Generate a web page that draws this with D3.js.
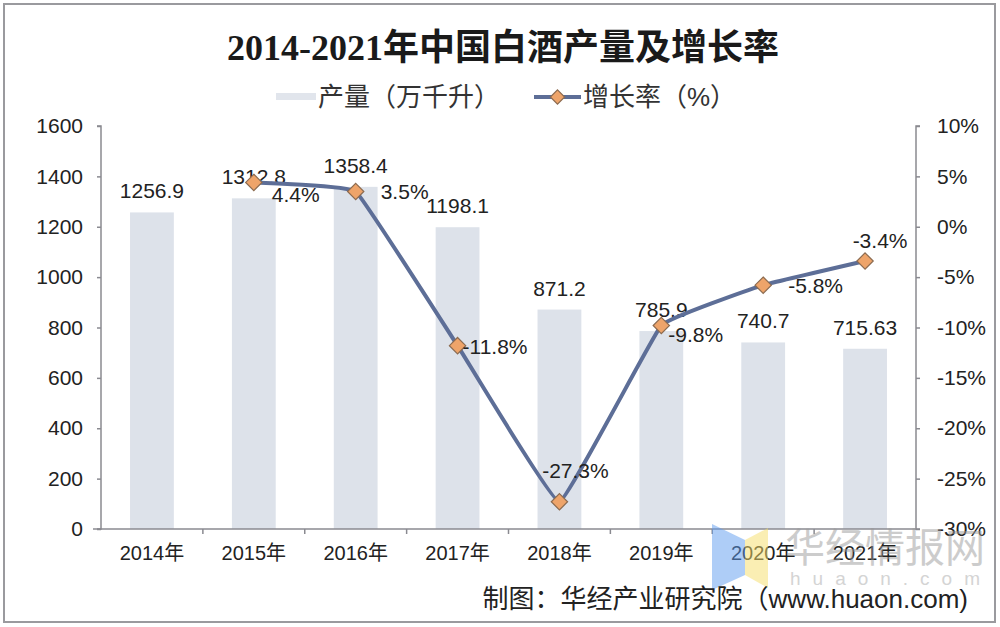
<!DOCTYPE html>
<html><head><meta charset="utf-8">
<script src="https://cdn.jsdelivr.net/npm/d3@7"></script>
<style>body{margin:0;background:#fff}svg{display:block}</style>
</head><body>
<script>
const categories = ["2014年","2015年","2016年","2017年","2018年","2019年","2020年","2021年"];
const output = [1256.9, 1312.8, 1358.4, 1198.1, 871.2, 785.9, 740.7, 715.63];
const outputLabels = ["1256.9","1312.8","1358.4","1198.1","871.2","785.9","740.7","715.63"];
const growth = [null, 4.4, 3.5, -11.8, -27.3, -9.8, -5.8, -3.4];
const growthLabels = ["", "4.4%", "3.5%", "-11.8%", "-27.3%", "-9.8%", "-5.8%", "-3.4%"];
const leftTicks = [0,200,400,600,800,1000,1200,1400,1600];
const rightTicks = [10,5,0,-5,-10,-15,-20,-25,-30];
// label offsets (dx, dy, anchor) — styling only
const growthLabelStyle = [null, [18,20,"start"], [25,8,"start"], [5,8,"start"], [16,-24,"middle"], [7,17,"start"], [25,8,"start"], [15,-13,"middle"]];

const W = 1000, H = 627;
const svg = d3.select("body").append("svg").attr("width", W).attr("height", H);
const sans = "Liberation Sans, Arial, Noto Sans CJK SC, sans-serif";

// frame
svg.append("rect").attr("x",4).attr("y",4).attr("width",991).attr("height",618)
  .attr("fill","#fff").attr("stroke","#9a9a9e").attr("stroke-width",2);

const x0 = 101, x1 = 916, yTop = 126, yBot = 529;
const x = d3.scaleBand().domain(categories).range([x0, x1]).paddingInner(0.57).paddingOuter(0.285);
const xb = d3.scaleBand().domain(categories).range([x0, x1]);
const yL = d3.scaleLinear().domain([0,1600]).range([yBot, yTop]);
const yR = d3.scaleLinear().domain([-30,10]).range([yBot, yTop]);

// title
svg.append("text").attr("x",503).attr("y",60).attr("text-anchor","middle")
  .attr("font-family","Liberation Serif, Noto Sans CJK SC, serif").attr("font-weight","bold")
  .attr("font-size",36).attr("fill","#1a1a1a").text("2014-2021年中国白酒产量及增长率");

// legend
const lg = svg.append("g");
lg.append("rect").attr("x",276).attr("y",93).attr("width",40).attr("height",7).attr("fill","#e1e5ec");
lg.append("text").attr("x",318).attr("y",106).attr("font-family",sans).attr("font-size",26).attr("fill","#333")
  .text("产量（万千升）");
lg.append("line").attr("x1",534).attr("x2",581).attr("y1",97).attr("y2",97).attr("stroke","#5d6e97").attr("stroke-width",4);
lg.append("path").attr("d",d3.symbol(d3.symbolDiamond2, 130)()).attr("transform","translate(557.5,97)")
  .attr("fill","#eea46a").attr("stroke","#8c6b50").attr("stroke-width",1.2);
lg.append("text").attr("x",583).attr("y",106).attr("font-family",sans).attr("font-size",26).attr("fill","#333")
  .text("增长率（%）");

// bars
svg.append("g").selectAll("rect").data(output).join("rect")
  .attr("x",(d,i)=>x(categories[i])).attr("width",x.bandwidth())
  .attr("y",d=>yL(d)).attr("height",d=>yBot-yL(d)).attr("fill","#dde2ea");

// axes
const axisColor = "#8a8a90";
const gl = svg.append("g").attr("transform",`translate(${x0},0)`)
  .call(d3.axisLeft(yL).tickValues(leftTicks).tickSize(4).tickPadding(14).tickFormat(d3.format("d")));
const gr = svg.append("g").attr("transform",`translate(${x1},0)`)
  .call(d3.axisRight(yR).tickValues(rightTicks).tickSize(4).tickPadding(17).tickFormat(d=>d+"%"));
const gx = svg.append("g").attr("transform",`translate(0,${yBot})`)
  .call(d3.axisBottom(xb).tickSize(0).tickPadding(17));
[gl,gr,gx].forEach(g=>{
  g.select(".domain").attr("stroke",axisColor).attr("stroke-width",1.5);
  g.selectAll(".tick line").attr("stroke",axisColor).attr("stroke-width",1.5);
  g.selectAll("text").attr("fill","#222").attr("font-family",sans).attr("font-size",21);
});
gl.select(".domain").attr("d",`M-4,${yTop}H0V${yBot}H-4`);
gr.select(".domain").attr("d",`M4,${yTop}H0V${yBot}H4`);
gx.select(".domain").attr("d",`M${x0-8},0H${x1}`);
gx.selectAll("text").attr("font-size",20);
gx.append("g").selectAll("line").data(categories.slice(1)).join("line")
  .attr("x1",d=>xb(d)).attr("x2",d=>xb(d)).attr("y1",0).attr("y2",5)
  .attr("stroke",axisColor).attr("stroke-width",1.5);

// bar labels
svg.append("g").selectAll("text").data(output).join("text")
  .attr("x",(d,i)=>xb(categories[i])+xb.bandwidth()/2).attr("y",d=>yL(d)-14)
  .attr("text-anchor","middle").attr("font-family",sans).attr("font-size",21).attr("fill","#222")
  .text((d,i)=>outputLabels[i]);

// growth line
const pts = growth.map((g,i)=>({g,i})).filter(d=>d.g!==null);
const cx = d=>xb(categories[d.i])+xb.bandwidth()/2;
svg.append("path").datum(pts)
  .attr("d",d3.line().x(cx).y(d=>yR(d.g)).curve(d3.curveCardinal.tension(0.78)))
  .attr("fill","none").attr("stroke","#5d6e97").attr("stroke-width",4).attr("stroke-linejoin","round");
svg.append("g").selectAll("path").data(pts).join("path")
  .attr("d",d3.symbol(d3.symbolDiamond2, 170)())
  .attr("transform",d=>`translate(${cx(d)},${yR(d.g)})`)
  .attr("fill","#eea46a").attr("stroke","#8c6b50").attr("stroke-width",1.2);

svg.append("g").selectAll("text").data(pts).join("text")
  .attr("x",d=>cx(d)+growthLabelStyle[d.i][0])
  .attr("y",d=>yR(d.g)+growthLabelStyle[d.i][1])
  .attr("text-anchor",d=>growthLabelStyle[d.i][2])
  .attr("font-family",sans).attr("font-size",21).attr("fill","#222")
  .text(d=>growthLabels[d.i]);

// watermark
const wm = svg.append("g").attr("opacity",0.5);
wm.append("path").attr("d","M712,524 L745,540 L745,575 L712,590 Z").attr("fill","#5f9cf0");
wm.append("path").attr("d","M745,540 L768,528 L768,588 L745,575 Z").attr("fill","#f7df6a");
wm.append("text").attr("x",785).attr("y",562).attr("font-family",sans).attr("font-size",40).attr("fill","#9a9a9a").text("华经情报网");
wm.append("text").attr("x",790).attr("y",585).attr("font-family",sans).attr("font-size",19).attr("fill","#aaa")
  .attr("letter-spacing",12).text("huaon.com");

// source
svg.append("text").attr("x",968).attr("y",608).attr("text-anchor","end")
  .attr("font-family",sans).attr("font-size",26).attr("fill","#222")
  .text("制图：华经产业研究院（www.huaon.com)");
</script>
</body></html>
